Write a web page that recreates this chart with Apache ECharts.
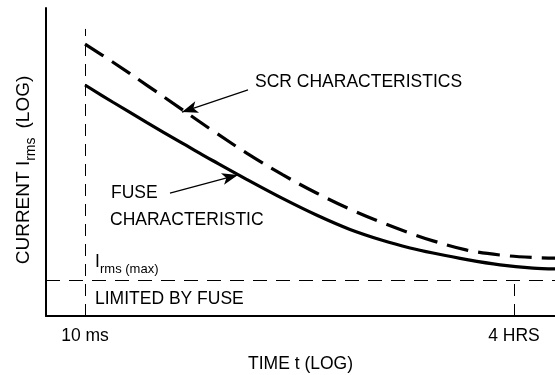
<!DOCTYPE html>
<html><head><meta charset="utf-8">
<script src="https://cdn.jsdelivr.net/npm/echarts@6/dist/echarts.min.js"></script>
<style>html,body{margin:0;padding:0;background:#fff}#c{width:555px;height:375px}</style>
</head><body><div id="c"></div>
<script>
// x: log10(time in seconds), y: log current in arbitrary units
const timeLog     = [-2.000,-1.598,-1.110,-0.636,-0.349,-0.162,0.326,0.842,1.330,1.804,2.278,2.666,2.996,3.484,3.958,4.431,4.747];
const fuseCurrent = [75.0,69.4,62.8,56.5,52.8,50.4,44.3,38.1,32.7,28.1,24.5,22.1,20.45,18.3,16.6,15.55,15.3];
const scrCurrent  = [88.3,82.4,74.9,67.5,63.0,60.1,52.8,45.8,39.85,34.7,30.2,26.9,24.4,21.4,19.8,19.0,18.8];
const tickValues = [-2, 4.158];
const tickLabels = ['10 ms', '4 HRS'];
const irmsMax = 11.7;
const tenMsTop = 93.2;
const scrArrow  = [[0.340, 73.4], [-0.608, 66.2]];
const fuseArrow = [[-0.780, 39.9], [0.196, 45.8]];

const FAM = '"Liberation Sans", Arial, Helvetica, sans-serif';
const FS = 17.5, SS = 13, YFS = 19, YSS = 14;
const ctx = document.createElement('canvas').getContext('2d');
function tw(t, s) { ctx.font = s + 'px ' + FAM; return ctx.measureText(t).width; }
function txt(t, x, y, s, rot) {
  return { type: 'text', x: x, y: y, rotation: rot || 0, silent: true,
    style: { text: t, font: s + 'px ' + FAM, fill: '#000', align: 'left', verticalAlign: 'middle',
             textAlign: 'left', textVerticalAlign: 'middle' } };
}
// y-axis title pieces
const yMain = 'CURRENT I', ySub = 'rms', yTail = '(LOG)', yGap = 9;
const yLen = tw(yMain, YFS) + tw(ySub, YSS) + yGap + tw(yTail, YFS);
const yStart = 170 + yLen / 2;
const R = Math.PI / 2;

const graphics = [
  txt('SCR CHARACTERISTICS', 255, 82.5, FS),
  txt('FUSE', 111, 193.5, FS),
  txt('CHARACTERISTIC', 110, 220.5, FS),
  txt('I', 95, 262, FS),
  txt('rms (max)', 100, 269, SS),
  txt('LIMITED BY FUSE', 95, 299, FS),
  txt(yMain, 23.5, yStart, YFS, R),
  txt(ySub, 31, yStart - tw(yMain, YFS), YSS, R),
  txt(yTail, 23.5, yStart - tw(yMain, YFS) - tw(ySub, YSS) - yGap, YFS, R)
];

const chart = echarts.init(document.getElementById('c'), null, { renderer: 'canvas' });
const thin = (d) => ({ color: '#000', width: 1, type: d });
chart.setOption({
  animation: false,
  backgroundColor: '#fff',
  grid: { left: 46, right: 0, top: 8, bottom: 59, containLabel: false, outerBoundsMode: 'none' },
  xAxis: {
    type: 'value', min: -2.56, max: 4.747,
    axisLine: { show: true, onZero: false, lineStyle: { color: '#000', width: 2 } },
    axisTick: { show: false }, splitLine: { show: false },
    axisLabel: { customValues: tickValues, formatter: (v) => tickLabels[tickValues.indexOf(v)],
      margin: 11, fontSize: FS, fontFamily: FAM, color: '#000', showMinLabel: true, showMaxLabel: true },
    name: 'TIME t (LOG)', nameLocation: 'middle', nameGap: 39,
    nameTextStyle: { fontSize: FS, fontFamily: FAM, color: '#000' }
  },
  yAxis: {
    type: 'value', min: 0, max: 100,
    axisLine: { show: true, onZero: false, lineStyle: { color: '#000', width: 2 } },
    axisTick: { show: false }, axisLabel: { show: false }, splitLine: { show: false }
  },
  series: [
    {
      name: 'Fuse', type: 'line', data: timeLog.map((t, i) => [t, fuseCurrent[i]]),
      showSymbol: false, smooth: 0.35,
      lineStyle: { color: '#000', width: 3.2 }, silent: true,
      markLine: {
        silent: true, symbol: ['none', 'none'], label: { show: false },
        data: [
          [{ coord: [tickValues[0], 0], lineStyle: thin([12, 8]) }, { coord: [tickValues[0], tenMsTop] }],
          [{ coord: [tickValues[1], 0], lineStyle: thin([12, 8]) }, { coord: [tickValues[1], irmsMax] }],
          { yAxis: irmsMax, lineStyle: thin([14, 9]) },
          [{ coord: scrArrow[0], lineStyle: { color: '#000', width: 1.2, type: 'solid' } },
           { coord: scrArrow[1], symbol: 'arrow', symbolSize: [9, 16] }],
          [{ coord: fuseArrow[0], lineStyle: { color: '#000', width: 1.2, type: 'solid' } },
           { coord: fuseArrow[1], symbol: 'arrow', symbolSize: [9, 16] }]
        ]
      }
    },
    {
      name: 'SCR', type: 'line', data: timeLog.map((t, i) => [t, scrCurrent[i]]),
      showSymbol: false, smooth: 0.35, silent: true,
      lineStyle: { color: '#000', width: 3.2, type: [22, 10] }
    }
  ],
  graphic: graphics
});
</script></body></html>
